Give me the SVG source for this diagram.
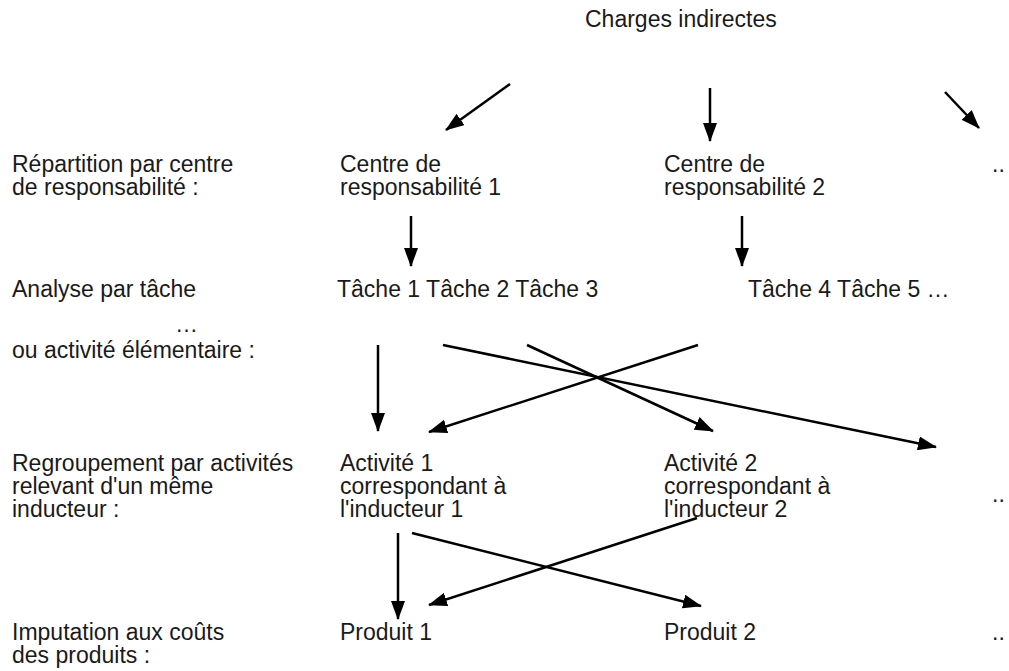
<svg xmlns="http://www.w3.org/2000/svg" width="1009" height="671" viewBox="0 0 1009 671">
  <style>
    text { font-family: "Liberation Sans", Arial, sans-serif; font-size: 23px; fill: #1a1a1a; }
    .arrow { stroke: #000; stroke-width: 2.5; fill: none; marker-end: url(#head); }
  </style>
  <defs>
    <marker id="head" viewBox="0 0 19 14" refX="18" refY="7" markerWidth="19" markerHeight="14" markerUnits="userSpaceOnUse" orient="auto">
      <path d="M0,0 L19,7 L0,14 z" fill="#000"/>
    </marker>
  </defs>
  <rect width="1009" height="671" fill="#fff"/>

  <!-- row labels -->
  <g id="labels">
    <text x="12" y="172">Répartition par centre</text>
    <text x="12" y="195">de responsabilité :</text>
    <text x="12" y="297">Analyse par tâche</text>
    <text x="175" y="332" font-size="15">…</text>
    <text x="12" y="358">ou activité élémentaire :</text>
    <text x="12" y="471">Regroupement par activités</text>
    <text x="12" y="494">relevant d'un même</text>
    <text x="12" y="517">inducteur :</text>
    <text x="12" y="640">Imputation aux coûts</text>
    <text x="12" y="663">des produits :</text>
  </g>

  <g id="charges"><text x="585" y="27">Charges indirectes</text></g>

  <g id="centre1"><text x="340" y="172">Centre de</text><text x="340" y="195">responsabilité 1</text></g>
  <g id="centre2"><text x="664" y="172">Centre de</text><text x="664" y="195">responsabilité 2</text></g>
  <g id="centreN"><text x="992" y="172">..</text></g>

  <g id="taches1"><text x="337" y="297">Tâche 1 Tâche 2 Tâche 3</text></g>
  <g id="taches2"><text x="748" y="297">Tâche 4 Tâche 5 …</text></g>

  <g id="activite1"><text x="340" y="471">Activité 1</text><text x="340" y="494">correspondant à</text><text x="340" y="517">l'inducteur 1</text></g>
  <g id="activite2"><text x="664" y="471">Activité 2</text><text x="664" y="494">correspondant à</text><text x="664" y="517">l'inducteur 2</text></g>
  <g id="activiteN"><text x="992" y="502">..</text></g>

  <g id="produit1"><text x="340" y="640">Produit 1</text></g>
  <g id="produit2"><text x="664" y="640">Produit 2</text></g>
  <g id="produitN"><text x="992" y="640">..</text></g>

  <g id="connectors">
    <line class="arrow" x1="510" y1="84" x2="446" y2="130"/>
    <line class="arrow" x1="710" y1="88" x2="710" y2="141"/>
    <line class="arrow" x1="945" y1="92" x2="979" y2="128"/>
    <line class="arrow" x1="411" y1="216" x2="411" y2="266"/>
    <line class="arrow" x1="742" y1="216" x2="742" y2="266"/>
    <line class="arrow" x1="378" y1="345" x2="378" y2="431"/>
    <line class="arrow" x1="443" y1="345" x2="936" y2="447"/>
    <line class="arrow" x1="527" y1="345" x2="713" y2="431"/>
    <line class="arrow" x1="698" y1="345" x2="429" y2="432"/>
    <line class="arrow" x1="398" y1="533" x2="398" y2="619"/>
    <line class="arrow" x1="412" y1="533" x2="701" y2="606"/>
    <line class="arrow" x1="697" y1="518" x2="429" y2="605"/>
  </g>
</svg>
